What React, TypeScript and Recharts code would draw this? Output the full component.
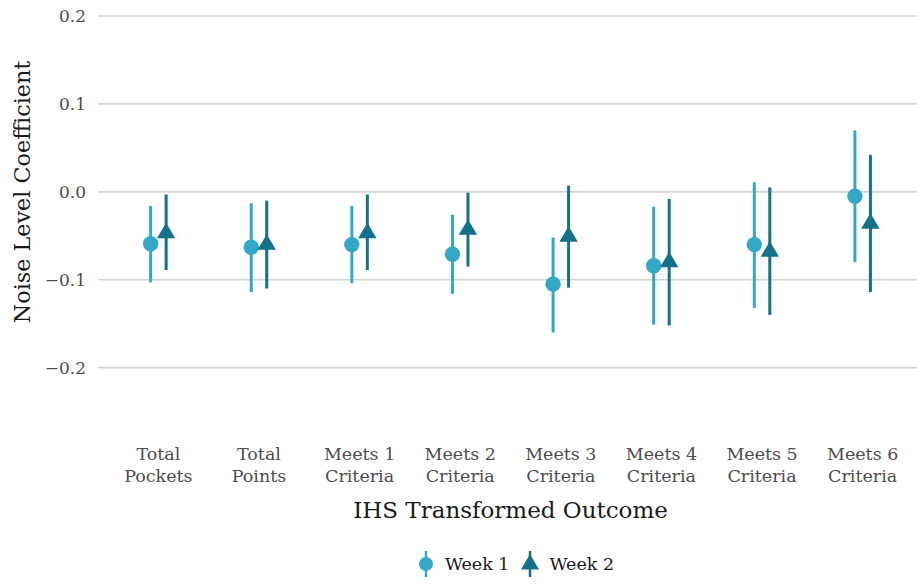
import { ComposedChart, Scatter, ErrorBar, XAxis, YAxis, ReferenceLine, Legend } from 'recharts';

const OUTCOMES = [
  ['Total', 'Pockets'],
  ['Total', 'Points'],
  ['Meets 1', 'Criteria'],
  ['Meets 2', 'Criteria'],
  ['Meets 3', 'Criteria'],
  ['Meets 4', 'Criteria'],
  ['Meets 5', 'Criteria'],
  ['Meets 6', 'Criteria'],
];

const WEEK1_EST = [-0.059, -0.063, -0.060, -0.071, -0.105, -0.084, -0.060, -0.005];
const WEEK1_LO = [-0.103, -0.114, -0.104, -0.116, -0.160, -0.151, -0.132, -0.080];
const WEEK1_HI = [-0.016, -0.013, -0.016, -0.026, -0.052, -0.017, 0.011, 0.070];

const WEEK2_EST = [-0.047, -0.060, -0.047, -0.043, -0.051, -0.080, -0.068, -0.036];
const WEEK2_LO = [-0.089, -0.110, -0.089, -0.085, -0.109, -0.152, -0.140, -0.114];
const WEEK2_HI = [-0.003, -0.010, -0.003, -0.001, 0.007, -0.008, 0.005, 0.042];

const Y_TICKS = [-0.2, -0.1, 0, 0.1, 0.2];
const X_TICKS = OUTCOMES.map((_, i) => i + 1);

const WEEK1_COLOR = '#30A8C6';
const WEEK2_COLOR = '#137189';
const FONT = "'DejaVu Serif', serif";
const DODGE = 0.077;

// points table for a series, error given relative to estimate
const buildSeries = (est: number[], lo: number[], hi: number[], shift: number) =>
  est.map((y, i) => ({ x: i + 1 + shift, y, err: [y - lo[i], hi[i] - y] }));

const week1 = buildSeries(WEEK1_EST, WEEK1_LO, WEEK1_HI, -DODGE);
const week2 = buildSeries(WEEK2_EST, WEEK2_LO, WEEK2_HI, DODGE);

const fmtY = (v: number) => (v < 0 ? '\u2212' + Math.abs(v).toFixed(1) : v.toFixed(1));

const CircleShape = (props: any) => (
  <circle cx={props.cx} cy={props.cy} r={7.7} fill={WEEK1_COLOR} />
);

const TriangleShape = (props: any) => {
  const { cx, cy } = props;
  // centroid at the data point, like pch 17
  const d = `M${cx},${cy - 10.4} L${cx + 9.2},${cy + 5.2} L${cx - 9.2},${cy + 5.2} Z`;
  return <path d={d} fill={WEEK2_COLOR} />;
};

const OutcomeTick = ({ x, y, payload }: any) => {
  const lines = OUTCOMES[payload.value - 1] || ['', ''];
  return (
    <text x={x} y={y} textAnchor="middle" fill="#4D4D4D" fontSize={17.5} style={{ fontFamily: FONT }}>
      <tspan x={x} dy={22}>{lines[0]}</tspan>
      <tspan x={x} dy={22}>{lines[1]}</tspan>
    </text>
  );
};

const LegendContent = () => (
  <div
    style={{
      width: 917,
      height: 40,
      display: 'flex',
      justifyContent: 'center',
      alignItems: 'center',
      paddingLeft: 114,
      boxSizing: 'border-box',
      fontFamily: FONT,
      fontSize: 17.5,
      color: '#1a1a1a',
    }}
  >
    <svg width={18} height={28}>
      <line x1={9} y1={1} x2={9} y2={27} stroke={WEEK1_COLOR} strokeWidth={2.5} />
      <circle cx={9} cy={14} r={7} fill={WEEK1_COLOR} />
    </svg>
    <span style={{ marginLeft: 10, marginRight: 10 }}>Week 1</span>
    <svg width={20} height={28}>
      <line x1={10} y1={1} x2={10} y2={27} stroke={WEEK2_COLOR} strokeWidth={2.5} />
      <path d="M10,4 L19,19.5 L1,19.5 Z" fill={WEEK2_COLOR} />
    </svg>
    <span style={{ marginLeft: 10 }}>Week 2</span>
  </div>
);

export default function App() {
  return (
    <div style={{ position: 'absolute', left: 0, top: 0, background: '#fff' }}>
      <ComposedChart width={917} height={584} margin={{ top: 16, right: 0, bottom: 0, left: 0 }}>
        <XAxis
          type="number"
          dataKey="x"
          domain={[0.4, 8.54]}
          ticks={X_TICKS}
          interval={0}
          tick={<OutcomeTick />}
          tickLine={false}
          axisLine={false}
          stroke="none"
          tickSize={0}
          tickMargin={0}
          height={106}
          allowDataOverflow
          label={{
            content: ({ viewBox }: any) => (
              <text
                x={viewBox.x + viewBox.width / 2 + 3}
                y={viewBox.y + 80}
                textAnchor="middle"
                fontSize={23}
                style={{ fontFamily: FONT }}
                fill="#1a1a1a"
              >
                IHS Transformed Outcome
              </text>
            ),
          }}
        />
        <YAxis
          type="number"
          dataKey="y"
          domain={[-0.28, 0.2]}
          ticks={Y_TICKS}
          tickFormatter={fmtY}
          tick={{ fill: '#4D4D4D', fontSize: 17, style: { fontFamily: FONT } }}
          tickLine={false}
          axisLine={false}
          stroke="none"
          tickSize={0}
          tickMargin={12}
          width={98}
          allowDataOverflow
          label={{
            content: () => (
              <text
                x={22}
                y={192}
                transform="rotate(-90 22 192)"
                textAnchor="middle"
                dominantBaseline="central"
                fontSize={22.3}
                style={{ fontFamily: FONT }}
                fill="#1a1a1a"
              >
                Noise Level Coefficient
              </text>
            ),
          }}
        />
        {Y_TICKS.map((t) => (
          <ReferenceLine key={t} y={t} stroke="#D3D3D3" strokeWidth={1.6} />
        ))}
        <Legend
          verticalAlign="bottom"
          height={40}
          content={<LegendContent />}
          wrapperStyle={{ left: 0, width: 917 }}
        />
        <Scatter name="Week 1" data={week1} shape={<CircleShape />} isAnimationActive={false}>
          <ErrorBar
            dataKey="err"
            direction="y"
            width={0}
            stroke={WEEK1_COLOR}
            strokeWidth={3}
            isAnimationActive={false}
          />
        </Scatter>
        <Scatter name="Week 2" data={week2} shape={<TriangleShape />} isAnimationActive={false}>
          <ErrorBar
            dataKey="err"
            direction="y"
            width={0}
            stroke={WEEK2_COLOR}
            strokeWidth={3}
            isAnimationActive={false}
          />
        </Scatter>
      </ComposedChart>
    </div>
  );
}
